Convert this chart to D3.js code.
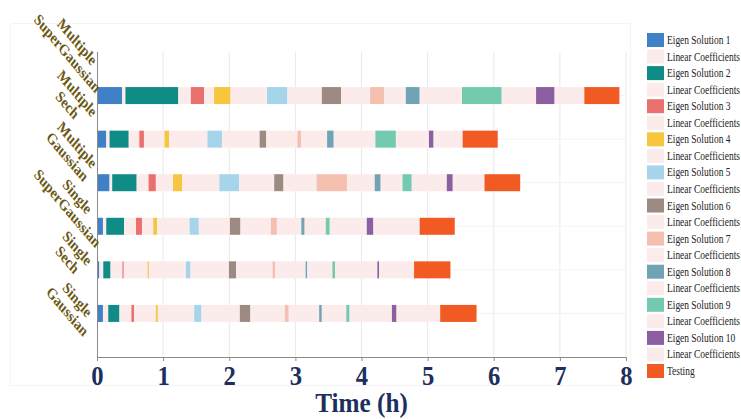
<!DOCTYPE html>
<html>
<head>
<meta charset="utf-8">
<script src="https://cdn.jsdelivr.net/npm/d3@7/dist/d3.min.js"></script>
<style>
  html, body { margin: 0; padding: 0; background: #ffffff; }
  svg { display: block; }
</style>
</head>
<body>
<svg id="chart" width="741" height="419"></svg>
<script>
// Row categories, top to bottom
const categories = [
  "Multiple SuperGaussian",
  "Multiple Sech",
  "Multiple Gaussian",
  "Single SuperGaussian",
  "Single Sech",
  "Single Gaussian"
];

// Stage names in run order: Eigen Solution k followed by its Linear Coefficients, then Testing
const stages = [
  "Eigen Solution 1", "Linear Coefficients",
  "Eigen Solution 2", "Linear Coefficients",
  "Eigen Solution 3", "Linear Coefficients",
  "Eigen Solution 4", "Linear Coefficients",
  "Eigen Solution 5", "Linear Coefficients",
  "Eigen Solution 6", "Linear Coefficients",
  "Eigen Solution 7", "Linear Coefficients",
  "Eigen Solution 8", "Linear Coefficients",
  "Eigen Solution 9", "Linear Coefficients",
  "Eigen Solution 10", "Linear Coefficients",
  "Testing"
];

const stageColors = [
  "#3f80c6", "#fcebeb",
  "#0f8c86", "#fcebeb",
  "#ea706e", "#fcebeb",
  "#f8c53e", "#fcebeb",
  "#a6d5eb", "#fcebeb",
  "#9d8a82", "#fcebeb",
  "#f5c0b0", "#fcebeb",
  "#70a3b6", "#fcebeb",
  "#73caaf", "#fcebeb",
  "#8b5fa1", "#fcebeb",
  "#f15a22"
];

// Stage durations in hours, one array per row (same order as stages)
const multipleSuperGaussian = [0.38, 0.05, 0.80, 0.19, 0.20, 0.15, 0.25, 0.55, 0.31, 0.52, 0.29, 0.44, 0.21, 0.33, 0.21, 0.64, 0.60, 0.52, 0.28, 0.45, 0.53];
const multipleSech          = [0.14, 0.05, 0.29, 0.16, 0.07, 0.31, 0.07, 0.58, 0.22, 0.57, 0.10, 0.47, 0.06, 0.39, 0.10, 0.63, 0.31, 0.50, 0.07, 0.44, 0.53];
const multipleGaussian      = [0.19, 0.04, 0.37, 0.18, 0.11, 0.26, 0.14, 0.56, 0.30, 0.53, 0.14, 0.50, 0.46, 0.42, 0.09, 0.33, 0.14, 0.53, 0.09, 0.48, 0.54];
const singleSuperGaussian   = [0.09, 0.05, 0.27, 0.18, 0.09, 0.17, 0.06, 0.49, 0.14, 0.47, 0.16, 0.46, 0.09, 0.37, 0.05, 0.32, 0.06, 0.56, 0.10, 0.70, 0.53];
const singleSech            = [0.035, 0.06, 0.11, 0.18, 0.02, 0.36, 0.02, 0.56, 0.07, 0.58, 0.11, 0.55, 0.04, 0.46, 0.025, 0.38, 0.04, 0.64, 0.025, 0.53, 0.55];
const singleGaussian        = [0.09, 0.08, 0.17, 0.18, 0.04, 0.33, 0.03, 0.55, 0.11, 0.58, 0.16, 0.52, 0.06, 0.46, 0.04, 0.37, 0.05, 0.64, 0.07, 0.66, 0.55];

const rowDurations = [multipleSuperGaussian, multipleSech, multipleGaussian, singleSuperGaussian, singleSech, singleGaussian];

const xTicks = [0, 1, 2, 3, 4, 5, 6, 7, 8];
const xTitle = "Time (h)";

// ---- layout ----
const svg = d3.select("#chart");
const plot = { left: 97, right: 626, top: 52, bottom: 357 };
const serif = "'Liberation Serif', 'Times New Roman', Times, serif";

const x = d3.scaleLinear().domain([0, 8]).range([plot.left, plot.right]);
const y = d3.scalePoint().domain(categories).range([plot.top, plot.bottom]).padding(1);
const labelY = d3.scalePoint().domain(categories).range([48, 306]);
const barH = 17;

// faint outer frame
svg.append("rect")
  .attr("x", 10.5).attr("y", 23.5).attr("width", 620).attr("height", 362)
  .attr("fill", "none").attr("stroke", "#f4f4f4").attr("stroke-width", 1);

// vertical grid
svg.append("g")
  .selectAll("line")
  .data(xTicks.slice(1))
  .join("line")
  .attr("x1", d => x(d)).attr("x2", d => x(d))
  .attr("y1", plot.top).attr("y2", plot.bottom)
  .attr("stroke", "#e9e9e9").attr("stroke-width", 1);

// horizontal grid through row centres
svg.append("g")
  .selectAll("line")
  .data(categories)
  .join("line")
  .attr("x1", plot.left).attr("x2", plot.right)
  .attr("y1", d => y(d)).attr("y2", d => y(d))
  .attr("stroke", "#f3f3f3").attr("stroke-width", 1);

// stacked stage segments
const segments = [];
categories.forEach((cat, i) => {
  let start = 0;
  rowDurations[i].forEach((dur, j) => {
    segments.push({ cat, stage: j, start, end: start + dur });
    start += dur;
  });
});

svg.append("g")
  .selectAll("rect")
  .data(segments)
  .join("rect")
  .attr("x", d => x(d.start))
  .attr("y", d => y(d.cat) - barH / 2)
  .attr("width", d => Math.max(0.8, x(d.end) - x(d.start)))
  .attr("height", barH)
  .attr("fill", d => stageColors[d.stage]);

// y axis line
svg.append("line")
  .attr("x1", plot.left + 0.5).attr("x2", plot.left + 0.5)
  .attr("y1", plot.top).attr("y2", plot.bottom)
  .attr("stroke", "#8a8a8a").attr("stroke-width", 1);

// x axis
const xAxis = svg.append("g")
  .attr("transform", `translate(0,${plot.bottom})`)
  .call(d3.axisBottom(x).tickValues(xTicks).tickFormat(d3.format("d")).tickSize(4).tickPadding(4));
xAxis.select(".domain").attr("stroke", "#8a8a8a");
xAxis.selectAll(".tick line").attr("stroke", "#8a8a8a");
xAxis.selectAll(".tick text")
  .attr("font-family", serif)
  .attr("font-weight", "bold")
  .attr("font-size", 28)
  .attr("transform", "scale(0.88,1)")
  .attr("fill", "#1d2f5f");

svg.append("text")
  .attr("transform", `translate(${(plot.left + plot.right) / 2},412) scale(0.9,1)`)
  .attr("text-anchor", "middle")
  .attr("font-family", serif)
  .attr("font-weight", "bold")
  .attr("font-size", 28)
  .attr("fill", "#1d2f5f")
  .text(xTitle);

// rotated row labels, two lines each
const lab = svg.append("g")
  .selectAll("g")
  .data(categories)
  .join("g")
  .attr("transform", d => `translate(72,${labelY(d)}) scale(1,1.18) rotate(45)`);

lab.append("text")
  .attr("text-anchor", "middle")
  .attr("font-family", serif)
  .attr("font-weight", "bold")
  .attr("font-size", 13.5)
  .attr("fill", "#6a5814")
  .selectAll("tspan")
  .data(d => d.split(" "))
  .join("tspan")
  .attr("x", 0)
  .attr("y", (d, i) => i === 0 ? -3 : 11)
  .text(d => d);

// legend
const legend = svg.append("g")
  .selectAll("g")
  .data(stages)
  .join("g")
  .attr("transform", (d, i) => `translate(647,${40 + i * 16.55})`);

legend.append("rect")
  .attr("x", 0).attr("y", -7)
  .attr("width", 17).attr("height", 14)
  .attr("fill", (d, i) => stageColors[i]);

const legendText = legend.append("text")
  .attr("font-family", serif)
  .attr("font-size", 11.5)
  .attr("fill", "#222")
  .text(d => d);

// squeeze legend text horizontally so the longest entry fits the right margin
const widest = d3.max(legendText.nodes(), n => n.getComputedTextLength());
const squeeze = Math.min(1, 73 / widest);
legendText.attr("transform", `translate(20,4) scale(${squeeze},1)`);
</script>
</body>
</html>
